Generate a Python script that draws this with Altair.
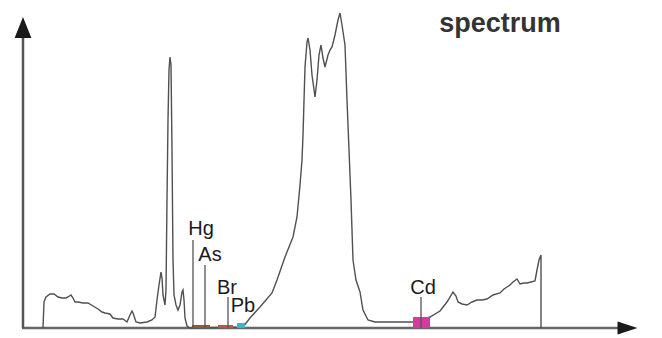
import altair as alt
import pandas as pd

# ---- spectrum trace (channel, counts) ----
spec_x = [43, 44, 46, 50, 54, 58, 62, 66, 68, 71, 73, 75, 78, 83, 88, 93, 98, 102, 105, 110,
          113, 118, 123, 127, 130, 132, 133, 136, 140, 147, 152, 155, 157, 159, 161, 162, 163,
          165, 166, 167, 168, 169, 170, 171, 172, 173, 174, 176, 178, 180, 182, 183, 184, 185,
          187, 190, 243, 250, 260, 272, 277, 285, 293, 297, 300, 302, 303, 305, 307, 308, 310,
          312, 315, 317, 319, 321, 323, 325, 328, 330, 332, 335, 338, 340, 342, 345, 347, 349,
          351, 353, 356, 360, 363, 368, 375, 385, 400, 413, 420, 430, 440, 447, 453, 456, 458,
          462, 467, 472, 477, 482, 487, 493, 500, 504, 507, 510, 513, 517, 520, 524, 527, 531,
          535, 537, 539, 541, 541]
spec_py = [328, 302, 297, 294, 294, 297, 298, 298, 297, 295, 298, 302, 302, 303, 303, 306, 309,
           312, 313, 314, 318, 319, 319, 322, 315, 311, 313, 322, 323, 322, 320, 317, 300, 285,
           272, 278, 295, 305, 290, 200, 120, 70, 57, 65, 150, 260, 295, 305, 310, 305, 292,
           290, 300, 318, 326, 328, 327, 318, 307, 293, 280, 257, 237, 217, 185, 160, 135, 67,
           42, 38, 50, 75, 97, 80, 55, 45, 58, 67, 55, 50, 47, 35, 20, 13, 25, 45, 100, 150,
           200, 260, 280, 292, 310, 320, 322, 322, 322, 322, 320, 317, 311, 302, 292, 296, 302,
           304, 305, 302, 300, 300, 299, 295, 293, 289, 287, 285, 282, 279, 284, 283, 283, 282,
           281, 270, 260, 255, 328]
spec_counts = [328 - v for v in spec_py]

# ---- element markers ----
elements = ["Hg", "As", "Br", "Pb", "Cd"]
elem_channel = [193, 205, 228, 240, 421]
elem_line_top = [88, 63, 31, 0, 31]
elem_label_x = [201, 210, 227, 243, 423]
elem_label_y = [99, 73, 40, 22, 40]

# ---- coloured energy windows on the baseline ----
band_start = [192, 218, 237, 413]
band_end = [210, 233, 245, 430]
band_height = [3, 3, 5, 11]
band_color = ["#8a5a3a", "#c8504a", "#3cb4c8", "#d23c9e"]

X = alt.X("x:Q", scale=alt.Scale(domain=[0, 662]), axis=None)
Y = alt.Y("y:Q", scale=alt.Scale(domain=[-10, 328]), axis=None)

spec_df = pd.DataFrame({"x": spec_x, "y": spec_counts, "o": range(len(spec_x))})
spectrum = alt.Chart(spec_df).mark_line(color="#505050", strokeWidth=1.4).encode(
    x=X, y=Y, order="o:Q")

# axes
yaxis = alt.Chart(pd.DataFrame({"x": [23], "y": [0], "y2": [292]})).mark_rule(
    color="#555555", strokeWidth=2.5).encode(x=X, y=Y, y2="y2:Q")
xaxis = alt.Chart(pd.DataFrame({"x": [22], "x2": [620], "y": [0]})).mark_rule(
    color="#666666", strokeWidth=2.5).encode(x=X, x2="x2:Q", y=Y)
uparrow = alt.Chart(pd.DataFrame({"x": [23], "y": [300.5]})).mark_point(
    shape="M0,-1L0.8,1L-0.8,1Z", size=441, filled=True, color="#1a1a1a", opacity=1).encode(x=X, y=Y)
rightarrow = alt.Chart(pd.DataFrame({"x": [627.5], "y": [0]})).mark_point(
    shape="M1,0L-1,-0.65L-1,0.65Z", size=400, filled=True, color="#1a1a1a", opacity=1).encode(x=X, y=Y)

band_df = pd.DataFrame({"x": band_start, "x2": band_end, "y": [0] * 4,
                        "y2": band_height, "c": band_color})
bands = alt.Chart(band_df).mark_rect().encode(
    x=X, x2="x2:Q", y=Y, y2="y2:Q", color=alt.Color("c:N", scale=None))

line_df = pd.DataFrame({"x": elem_channel, "y": [0] * 5, "y2": elem_line_top})
line_df = line_df[line_df["y2"] > 0]
elines = alt.Chart(line_df).mark_rule(color="#555555", strokeWidth=1.3).encode(
    x=X, y=Y, y2="y2:Q")

lab_df = pd.DataFrame({"x": elem_label_x, "y": elem_label_y, "t": elements})
labels = alt.Chart(lab_df).mark_text(
    font="Liberation Sans", fontSize=20, color="#1a1a1a", align="center", baseline="middle"
).encode(x=X, y=Y, text="t:N")

title = alt.Chart(pd.DataFrame({"x": [500], "y": [304], "t": ["spectrum"]})).mark_text(
    font="Liberation Sans", fontSize=27, fontWeight="bold", color="#333333",
    align="center", baseline="middle").encode(x=X, y=Y, text="t:N")

chart = alt.layer(xaxis, yaxis, spectrum, bands, elines, labels, title, uparrow, rightarrow).properties(
    width=662, height=338, padding=0, autosize=alt.AutoSizeParams(type="none")
).configure_view(stroke=None)

chart.save("out.html", embed_options={"renderer": "svg", "actions": False})
